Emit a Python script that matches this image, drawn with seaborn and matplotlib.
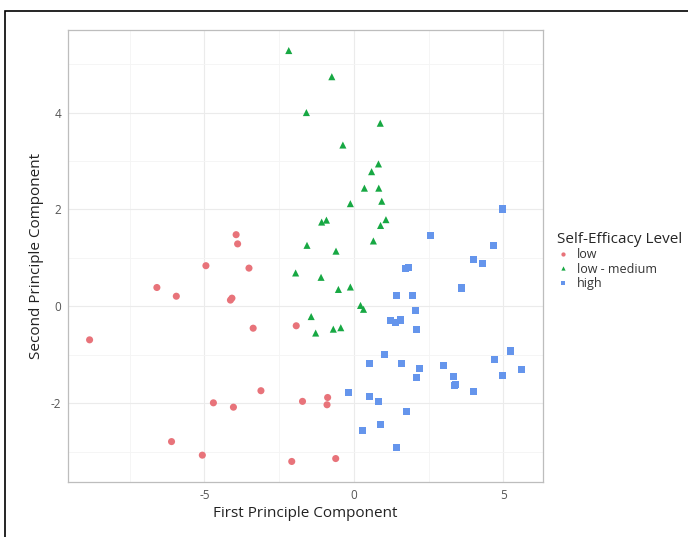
import numpy as np
import pandas as pd
import matplotlib
matplotlib.use("Agg")
import matplotlib.pyplot as plt
import matplotlib.patches as mpatches
import seaborn as sns

# PCA scores, per self-efficacy group
low_pc1 = [-3.94, -3.89, -4.95, -3.51, -6.59, -5.94, -4.13, -4.08, -3.37, -1.93, -8.84,
           -3.11, -4.70, -4.03, -1.72, -6.10, -5.07, -2.08, -0.88, -0.90, -0.61]
low_pc2 = [1.48, 1.29, 0.84, 0.79, 0.39, 0.21, 0.13, 0.17, -0.45, -0.40, -0.69,
           -1.74, -1.99, -2.08, -1.96, -2.79, -3.07, -3.20, -1.88, -2.03, -3.14]

med_pc1 = [-2.18, -0.74, -1.59, 0.88, -0.37, 0.82, 0.59, 0.35, 0.83, -0.12, 0.93, -1.08, -0.92, 1.07,
           0.89, 0.65, -1.57, -0.60, -1.95, -1.10, -0.52, -0.12, 0.22, 0.32, -1.43, -1.28, -0.69, -0.44]
med_pc2 = [5.28, 4.74, 4.00, 3.78, 3.33, 2.94, 2.78, 2.44, 2.44, 2.12, 2.17, 1.74, 1.78, 1.79,
           1.67, 1.35, 1.26, 1.14, 0.69, 0.60, 0.35, 0.40, 0.02, -0.06, -0.21, -0.55, -0.47, -0.44]

high_pc1 = [4.96, 2.56, 4.68, 4.00, 4.31, 1.72, 1.81, 3.59, 1.42, 1.96, 2.05, 1.22, 1.40, 1.57,
            2.10, 1.01, 0.53, 1.58, 2.19, 2.08, 2.99, 3.32, 3.36, 3.41, 4.00, 4.70, 5.22, 4.97,
            5.60, -0.17, 0.53, 0.82, 1.76, 0.90, 0.30, 1.43]
high_pc2 = [2.01, 1.46, 1.25, 0.96, 0.88, 0.79, 0.80, 0.38, 0.23, 0.23, -0.08, -0.30, -0.33, -0.28,
            -0.47, -0.99, -1.18, -1.18, -1.28, -1.47, -1.22, -1.45, -1.63, -1.61, -1.75, -1.10, -0.92, -1.42,
            -1.31, -1.77, -1.86, -1.97, -2.17, -2.44, -2.57, -2.92]

levels = ["low", "low - medium", "high"]
x_ticks = [-5, 0, 5]
y_ticks = [-2, 0, 2, 4]

df = pd.DataFrame({
    "PC1": low_pc1 + med_pc1 + high_pc1,
    "PC2": low_pc2 + med_pc2 + high_pc2,
    "level": [levels[0]] * len(low_pc1) + [levels[1]] * len(med_pc1) + [levels[2]] * len(high_pc1),
})

sns.set_style("white")
plt.rcParams["font.family"] = ["Open Sans", "DejaVu Sans"]
plt.rcParams["axes.unicode_minus"] = False

palette = {"low": "#E8737A", "low - medium": "#17A843", "high": "#6595EC"}
markers = {"low": "o", "low - medium": "^", "high": "s"}

fig = plt.figure(figsize=(6.88, 5.37), dpi=100)
ax = fig.add_axes([68 / 688, 55 / 537, 475 / 688, 452 / 537])

sns.scatterplot(data=df, x="PC1", y="PC2", hue="level", style="level", hue_order=levels,
                style_order=levels, palette=palette, markers=markers, s=26, linewidth=0,
                ax=ax, legend=True, zorder=3)

# ggplot-like expansion of 5%
xr = max(df.PC1) - min(df.PC1)
yr = max(df.PC2) - min(df.PC2)
ax.set_xlim(min(df.PC1) - 0.05 * xr, max(df.PC1) + 0.05 * xr)
ax.set_ylim(min(df.PC2) - 0.05 * yr, max(df.PC2) + 0.05 * yr)

ax.set_xticks(x_ticks)
ax.set_yticks(y_ticks)
ax.set_xticks([-7.5, -2.5, 2.5], minor=True)
ax.set_yticks([-3, -1, 1, 3, 5], minor=True)
ax.grid(True, which="major", color="#EBEBEB", linewidth=0.8, zorder=0)
ax.grid(True, which="minor", color="#F4F4F4", linewidth=0.6, zorder=0)
ax.set_axisbelow(True)
for sp in ax.spines.values():
    sp.set_color("#BDBDBD")
    sp.set_linewidth(0.9)
ax.tick_params(axis="both", which="major", length=3, width=0.6, color="#8C8C8C",
               labelsize=8.5, labelcolor="#555555", pad=2)
ax.tick_params(axis="both", which="minor", length=0)

ax.set_xlabel("First Principle Component", fontsize=11, color="#222222", labelpad=3)
ax.set_ylabel("Second Principle Component", fontsize=11, color="#222222", labelpad=5)

handles, labels = ax.get_legend_handles_labels()
ax.get_legend().remove()
leg = fig.legend(handles, labels, title="Self-Efficacy Level", loc="upper left",
                 bbox_to_anchor=(548 / 688, 1 - 223 / 537), frameon=False, fontsize=9,
                 title_fontsize=11, markerscale=0.6, handlelength=1.0, handletextpad=0.6,
                 labelspacing=0.12, borderpad=0.2, alignment="left")
for t in leg.get_texts():
    t.set_color("#333333")

# black frame around the figure
fig.patches.append(mpatches.Rectangle((5 / 688, -0.05), 1.05, 1 - 11 / 537 + 0.05,
                                      transform=fig.transFigure, fill=False,
                                      edgecolor="black", linewidth=1.2))

fig.savefig("out.png", dpi=100)
